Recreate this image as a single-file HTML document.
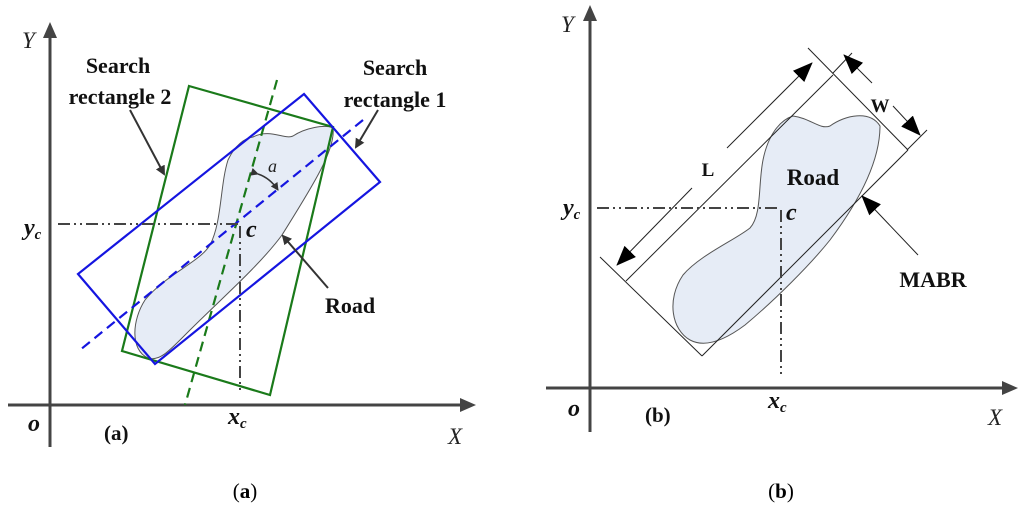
<!DOCTYPE html>
<html><head><meta charset="utf-8"><style>
html,body{margin:0;padding:0;background:#fff;width:1024px;height:510px;overflow:hidden}
svg{display:block}
.b{font-family:"Liberation Serif",serif;font-weight:bold;fill:#111}
.i{font-family:"Liberation Serif",serif;font-style:italic;fill:#222}
</style></head><body>
<svg width="1024" height="510" viewBox="0 0 1024 510" xmlns="http://www.w3.org/2000/svg">
<defs>
<marker id="ah" markerWidth="10" markerHeight="10" refX="8" refY="5" orient="auto" markerUnits="userSpaceOnUse"><path d="M0,0 L10,5 L0,10 Z" fill="#333"/></marker>
<marker id="ab" markerWidth="20" markerHeight="16" refX="19" refY="8" orient="auto" markerUnits="userSpaceOnUse"><path d="M0,0 L20,8 L0,16 Z" fill="#000"/></marker>
<marker id="as" markerWidth="8" markerHeight="8" refX="7" refY="4" orient="auto" markerUnits="userSpaceOnUse"><path d="M0,0 L8,4 L0,8 Z" fill="#333"/></marker>
</defs>
<!-- LEFT PANEL -->
<path d="M253,137 C270,128 285,140 293,136 C305,128 325,124 333,128 C336,150 310,190 282,235 C260,265 220,300 190,330 C170,350 160,362 148,358 C130,350 132,320 145,300 C165,275 200,262 210,245 C222,222 220,185 228,160 C235,145 245,138 253,137 Z" fill="#e6ecf6" stroke="#555" stroke-width="1"/>
<line x1="50" y1="447" x2="50" y2="35" stroke="#444" stroke-width="3"/>
<path d="M43,38 L50,22 L57,38 Z" fill="#444"/>
<line x1="8" y1="405" x2="462" y2="405" stroke="#444" stroke-width="3"/>
<path d="M460,398 L476,405 L460,412 Z" fill="#444"/>
<polygon points="189,86 333,127 270,395 122,351" fill="none" stroke="#1a7a1a" stroke-width="2.2"/>
<line x1="277" y1="80" x2="185" y2="405" stroke="#1a7a1a" stroke-width="2.2" stroke-dasharray="10,6"/>
<polygon points="304,94 380,182 155,364 78,274" fill="none" stroke="#1515e0" stroke-width="2.2"/>
<line x1="363" y1="120" x2="80" y2="350" stroke="#1515e0" stroke-width="2.2" stroke-dasharray="10,6"/>
<line x1="58" y1="224" x2="238" y2="224" stroke="#444" stroke-width="2" stroke-dasharray="12,4,2,4,2,4"/>
<line x1="240" y1="226" x2="240" y2="390" stroke="#444" stroke-width="2" stroke-dasharray="12,4,2,4,2,4"/>
<path d="M258,174 Q270,178 278,190" fill="none" stroke="#333" stroke-width="1.5" marker-end="url(#as)" marker-start="url(#as)"/>
<line x1="130" y1="110" x2="164" y2="174" stroke="#333" stroke-width="2" marker-end="url(#ah)"/>
<line x1="378" y1="110" x2="356" y2="147" stroke="#333" stroke-width="2" marker-end="url(#ah)"/>
<line x1="328" y1="288" x2="283" y2="236" stroke="#333" stroke-width="2" marker-end="url(#ah)"/>
<text x="118" y="73" class="b" font-size="22" text-anchor="middle">Search</text>
<text x="120" y="104" class="b" font-size="22" text-anchor="middle">rectangle 2</text>
<text x="395" y="75" class="b" font-size="22" text-anchor="middle">Search</text>
<text x="395" y="107" class="b" font-size="22" text-anchor="middle">rectangle 1</text>
<text x="350" y="313" class="b" font-size="22" text-anchor="middle">Road</text>
<text x="268" y="172" class="i" font-size="18">a</text>
<text x="246" y="237" class="b" font-size="24" font-style="italic">c</text>
<text x="24" y="235" class="b" font-size="24" font-style="italic">y<tspan font-size="15" dy="4">c</tspan></text>
<text x="228" y="424" class="b" font-size="24" font-style="italic">x<tspan font-size="15" dy="4">c</tspan></text>
<text x="28" y="431" class="b" font-size="24" font-style="italic">o</text>
<text x="104" y="440" class="b" font-size="21">(a)</text>
<text x="22" y="48" class="i" font-size="23">Y</text>
<text x="448" y="444" class="i" font-size="23">X</text>
<!-- RIGHT PANEL -->
<path d="M793,116 C810,118 820,130 830,126 C845,115 870,110 880,126 C880,160 860,200 830,240 C810,265 775,300 745,325 C725,340 705,348 690,340 C672,330 666,300 683,275 C700,255 735,240 750,228 C762,215 758,185 763,160 C768,135 780,120 793,116 Z" fill="#e6ecf6" stroke="#555" stroke-width="1"/>
<line x1="590" y1="432" x2="590" y2="18" stroke="#444" stroke-width="3"/>
<path d="M583,21 L590,5 L597,21 Z" fill="#444"/>
<line x1="546" y1="388" x2="1004" y2="388" stroke="#444" stroke-width="3"/>
<path d="M1002,381 L1018,388 L1002,395 Z" fill="#444"/>
<g stroke="#222" stroke-width="1" fill="none">
<line x1="626" y1="281" x2="833" y2="75"/>
<line x1="702" y1="356" x2="908" y2="150"/>
<line x1="600" y1="257" x2="702" y2="356"/>
<line x1="808" y1="48" x2="908" y2="150"/>
<line x1="833" y1="73" x2="852" y2="53"/>
<line x1="907" y1="150" x2="927" y2="130"/>
<line x1="727" y1="148" x2="812" y2="63" marker-end="url(#ab)"/>
<line x1="692" y1="188" x2="617" y2="265" marker-end="url(#ab)"/>
<line x1="872" y1="83" x2="844" y2="55" marker-end="url(#ab)"/>
<line x1="893" y1="106" x2="920" y2="135" marker-end="url(#ab)"/>
<line x1="918" y1="255" x2="862" y2="196" marker-end="url(#ab)"/>
</g>
<line x1="597" y1="208" x2="780" y2="208" stroke="#444" stroke-width="2" stroke-dasharray="12,4,2,4,2,4"/>
<line x1="781" y1="210" x2="781" y2="375" stroke="#444" stroke-width="2" stroke-dasharray="12,4,2,4,2,4"/>
<text x="880" y="112" class="b" font-size="19" text-anchor="middle">W</text>
<text x="708" y="176" class="b" font-size="19" text-anchor="middle">L</text>
<text x="813" y="185" class="b" font-size="23" text-anchor="middle">Road</text>
<text x="933" y="287" class="b" font-size="22" text-anchor="middle">MABR</text>
<text x="786" y="220" class="b" font-size="24" font-style="italic">c</text>
<text x="563" y="215" class="b" font-size="24" font-style="italic">y<tspan font-size="15" dy="4">c</tspan></text>
<text x="768" y="408" class="b" font-size="24" font-style="italic">x<tspan font-size="15" dy="4">c</tspan></text>
<text x="568" y="416" class="b" font-size="24" font-style="italic">o</text>
<text x="645" y="422" class="b" font-size="21">(b)</text>
<text x="561" y="32" class="i" font-size="23">Y</text>
<text x="988" y="425" class="i" font-size="23">X</text>
<!-- captions -->
<text x="245" y="498" font-family="Liberation Serif,serif" font-size="21" text-anchor="middle">(<tspan font-weight="bold">a</tspan>)</text>
<text x="781" y="498" font-family="Liberation Serif,serif" font-size="21" text-anchor="middle">(<tspan font-weight="bold">b</tspan>)</text>
</svg>
</body></html>
